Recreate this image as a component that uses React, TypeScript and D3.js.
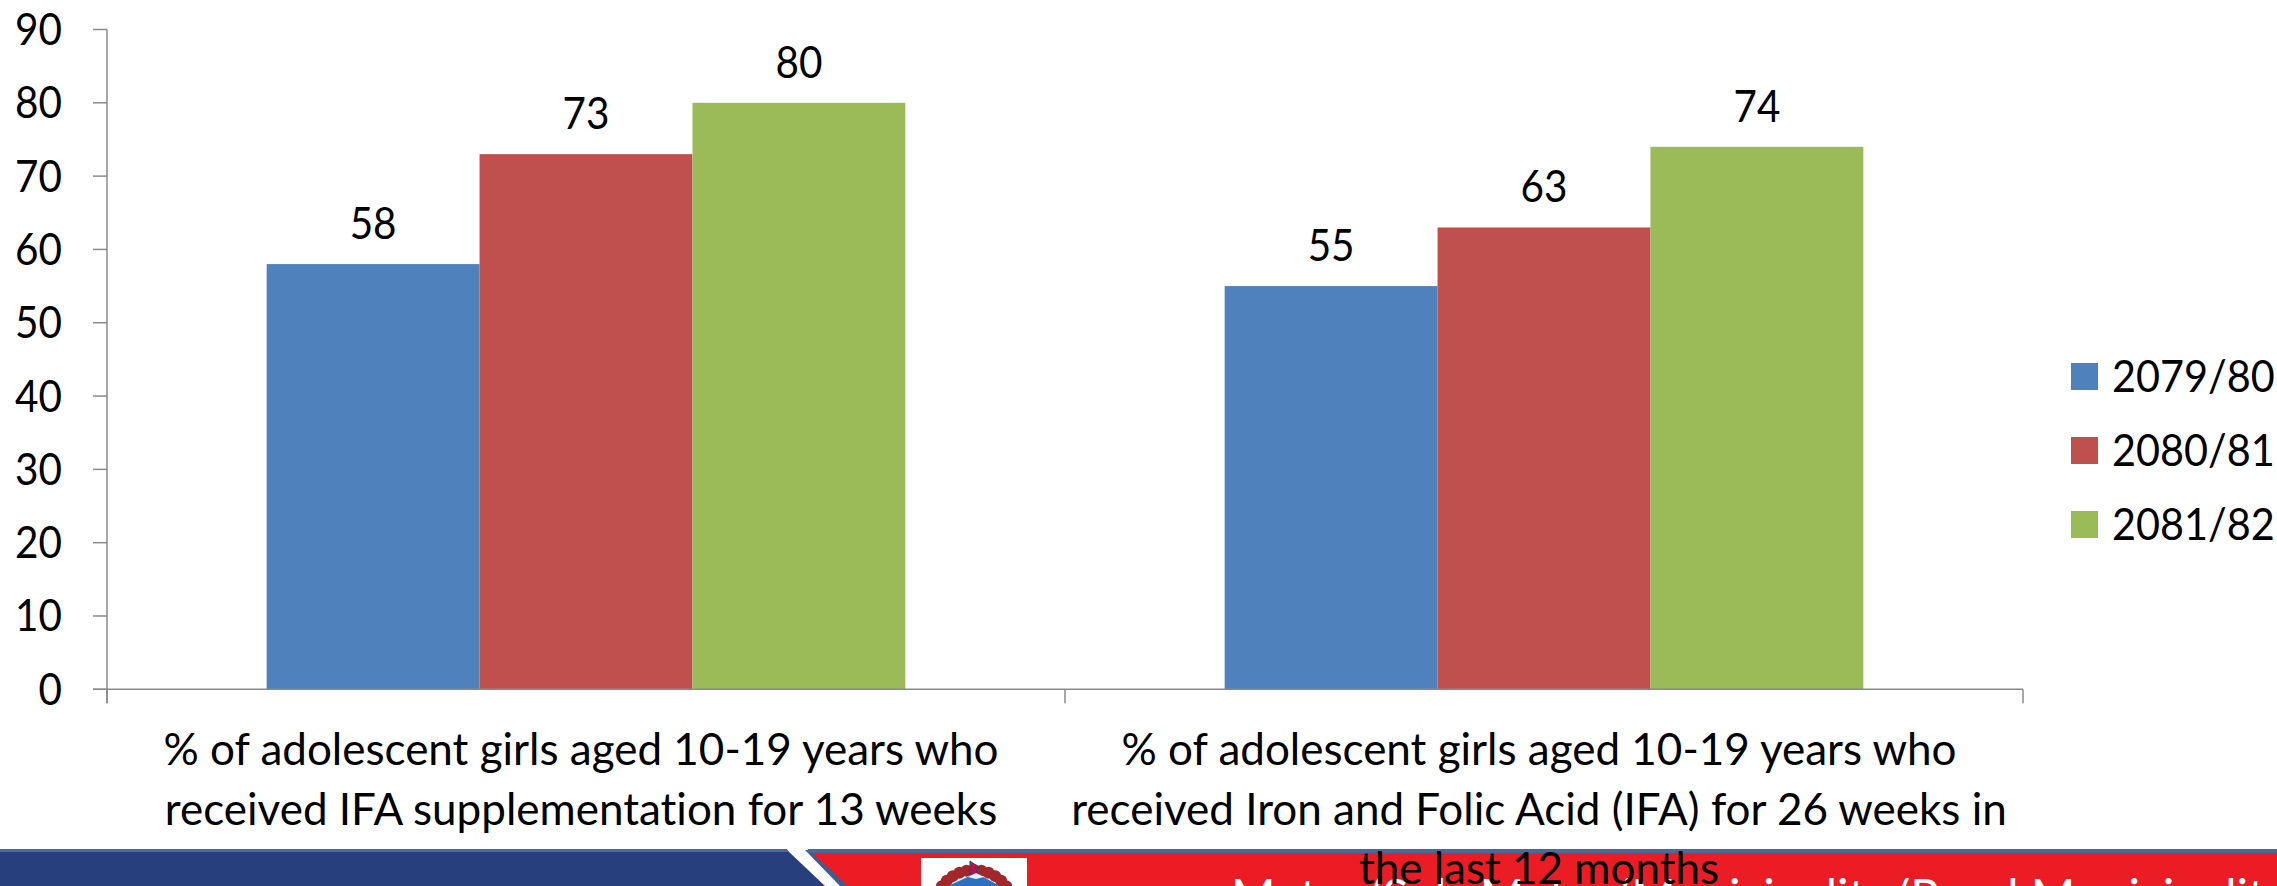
import React from "react";
import * as d3 from "d3";

// ---------- data ----------
const categoryLines: string[][] = [
  ["% of adolescent girls aged 10-19 years who", "received IFA supplementation for 13 weeks"],
  [
    "% of adolescent girls aged 10-19 years who",
    "received Iron and Folic Acid (IFA) for 26 weeks in",
    "the last 12 months",
  ],
];
const categoryKeys = ["c1", "c2"];
const seriesNames = ["2079/80", "2080/81", "2081/82"];
const values2079_80 = [58, 55];
const values2080_81 = [73, 63];
const values2081_82 = [80, 74];
const yTickValues = [0, 10, 20, 30, 40, 50, 60, 70, 80, 90];
const bannerText = "Metro/Sub-Metro/Municipality/Rural Municipality";

// ---------- style ----------
const W = 2277;
const H = 886;
const COLORS = ["#4F81BD", "#C0504D", "#9BBB59"];
const AXIS = "#8a8a8a";
const FONT = "Lato, 'Open Sans', sans-serif";
const FS = 44;
const DIGIT_SX = 0.92;

function SText(props: {
  x: number;
  y: number;
  sx: number;
  anchor?: "start" | "middle" | "end";
  size: number;
  fill?: string;
  children: React.ReactNode;
}) {
  return (
    <text
      transform={`translate(${props.x},${props.y}) scale(${props.sx},1)`}
      textAnchor={props.anchor || "start"}
      fontSize={props.size}
      fill={props.fill || "#000"}
    >
      {props.children}
    </text>
  );
}

export default function App() {
  const seriesValues = [values2079_80, values2080_81, values2081_82];
  const plotL = 107,
    plotR = 2023,
    plotT = 29.5,
    plotB = 689.3;

  const x0 = d3.scaleBand<string>().domain(categoryKeys).range([plotL, plotR]).padding(0);
  const x1 = d3
    .scaleBand<string>()
    .domain(seriesNames)
    .range([0, x0.bandwidth()])
    .paddingInner(0)
    .paddingOuter(0.75);
  const y = d3.scaleLinear().domain([0, 90]).range([plotB, plotT]);

  const boundaries = [plotL, ...categoryKeys.map((k) => (x0(k) as number) + x0.bandwidth())];
  const lineH = 59.5;
  const firstBase = 765;

  // wreath dots for the emblem
  const wreath = d3.range(0, 15).map((i) => {
    const a = (Math.PI * (195 + (i * 150) / 14)) / 180;
    return { cx: 974 + 40 * Math.cos(a), cy: 910 + 40 * Math.sin(a) };
  });

  return (
    <svg
      width={W}
      height={H}
      viewBox={`0 0 ${W} ${H}`}
      style={{
        position: "absolute",
        left: 0,
        top: 0,
        display: "block",
        background: "#fff",
        fontVariantLigatures: "none",
        fontFeatureSettings: "'liga' 0, 'clig' 0",
      }}
      fontFamily={FONT}
    >
      <rect x={0} y={0} width={W} height={H} fill="#fff" />

      {/* bars */}
      {seriesNames.map((s, si) =>
        categoryKeys.map((c, ci) => {
          const v = seriesValues[si][ci];
          const bx = (x0(c) as number) + (x1(s) as number);
          return (
            <rect
              key={s + c}
              x={bx}
              y={y(v)}
              width={x1.bandwidth()}
              height={y(0) - y(v)}
              fill={COLORS[si]}
            />
          );
        })
      )}

      {/* value labels */}
      {seriesNames.map((s, si) =>
        categoryKeys.map((c, ci) => {
          const v = seriesValues[si][ci];
          const cx = (x0(c) as number) + (x1(s) as number) + x1.bandwidth() / 2;
          return (
            <SText key={"l" + s + c} x={cx} y={y(v) - 25} sx={DIGIT_SX} anchor="middle" size={FS}>
              {v}
            </SText>
          );
        })
      )}

      {/* y axis */}
      <line x1={plotL} x2={plotL} y1={y(90)} y2={plotB + 14} stroke={AXIS} strokeWidth={1.5} />
      {yTickValues.map((t) => (
        <g key={"t" + t}>
          <line x1={plotL - 14} x2={plotL} y1={y(t)} y2={y(t)} stroke={AXIS} strokeWidth={1.5} />
          <SText x={62} y={y(t) + 15.5} sx={DIGIT_SX} anchor="end" size={FS}>
            {t}
          </SText>
        </g>
      ))}

      {/* x axis */}
      <line x1={plotL - 14} x2={plotR} y1={y(0)} y2={y(0)} stroke={AXIS} strokeWidth={1.5} />
      {boundaries.map((b, i) => (
        <line key={"b" + i} x1={b} x2={b} y1={y(0)} y2={y(0) + 14} stroke={AXIS} strokeWidth={1.5} />
      ))}

      {/* legend */}
      {seriesNames.map((s, i) => {
        const cy = 376.5 + i * 74;
        return (
          <g key={"lg" + s}>
            <rect x={2071} y={cy - 13.5} width={27} height={27} fill={COLORS[i]} />
            <SText x={2112} y={cy + 15.5} sx={DIGIT_SX} size={45}>
              {s}
            </SText>
          </g>
        );
      })}

      {/* bottom banner */}
      <g>
        <rect x={0} y={849} width={W} height={H - 849} fill="#fff" />
        <polygon points={`0,850 787,850 825,886 0,886`} fill="#283F7E" />
        <polygon points={`0,849 787,849 789,852 0,852`} fill="#4a6a9a" />
        <polygon points={`805,850 814,850 850,886 840,886`} fill="#3d5d92" />
        <polygon points={`812,853 ${W},853 ${W},886 848,886`} fill="#EC1C24" />
        <rect x={808} y={849} width={W - 808} height={4} fill="#4a6a9a" />
        {/* emblem */}
        <rect x={921} y={858} width={106} height={30} fill="#fff" />
        {wreath.map((p, i) => (
          <circle key={"w" + i} cx={p.cx} cy={p.cy} r={6} fill="#a3262a" />
        ))}
        <polygon points="970,861 970,875 980,875 975,868 980,868" fill="#c8102e" stroke="#1c3f94" strokeWidth={1} />
        <polygon points="948,886 976,873 1000,886" fill="#2a72c0" />
        <polygon points="968,877 976,873 984,877 976,879" fill="#e8eef8" />
        <text x={1231} y={914} fontSize={48} fill="#fff">
          {bannerText}
        </text>
      </g>

      {/* category labels */}
      {categoryKeys.map((c, ci) => {
        const cx = (x0(c) as number) + x0.bandwidth() / 2 - 5;
        return categoryLines[ci].map((ln, li) => (
          <text
            key={"c" + ci + li}
            x={cx}
            y={firstBase + li * lineH}
            textAnchor="middle"
            fontSize={FS}
            fill="#000"
          >
            {ln}
          </text>
        ));
      })}
    </svg>
  );
}
